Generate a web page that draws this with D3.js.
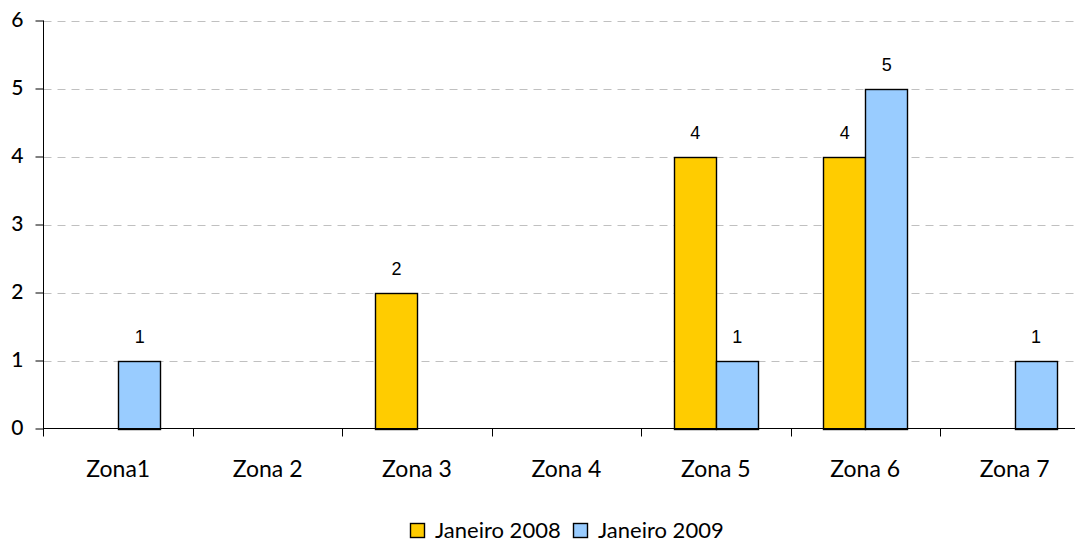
<!DOCTYPE html>
<html><head><meta charset="utf-8">
<script src="https://cdn.jsdelivr.net/npm/d3@7"></script>
<style>body{margin:0;background:#fff}svg{display:block}</style>
</head><body>
<svg id="c" width="1075" height="544"></svg>
<script>
const categories = ["Zona1","Zona 2","Zona 3","Zona 4","Zona 5","Zona 6","Zona 7"];
const seriesNames = ["Janeiro 2008","Janeiro 2009"];
const jan2008 = [0,0,2,0,4,4,0];
const jan2009 = [1,0,0,0,1,5,1];
const yTicks = [0,1,2,3,4,5,6];
const colors = ["#FFCC00","#99CCFF"];

const svg = d3.select("#c");
const mLeft = 43.5, mTop = 20.5, mBottom = 428.5, bandW = 149.4;
const x = d3.scaleBand().domain(categories).range([mLeft, mLeft + bandW*categories.length]);
const y = d3.scaleLinear().domain([0,6]).range([mBottom, mTop]);
const xs = d3.scaleBand().domain([0,1]).range([0, 84]);
const series = [jan2008, jan2009];

// gridlines
svg.append("g").selectAll("line").data(yTicks.filter(d=>d>0)).join("line")
  .attr("x1", mLeft).attr("x2", 1075).attr("y1", d=>Math.round(y(d))+0.5).attr("y2", d=>Math.round(y(d))+0.5)
  .attr("stroke", "#c0c0c0").attr("stroke-dasharray","8,6");

// bars
categories.forEach((c,i)=>{
  series.forEach((s,k)=>{
    const v = s[i];
    if (!v) return;
    const bx = x(c) + x.bandwidth()/2 - 42 + xs(k);
    svg.append("rect").attr("x", Math.round(bx)+0.5).attr("y", Math.round(y(v))+0.5)
      .attr("width", 42).attr("height", Math.round(y(0)) - Math.round(y(v)))
      .attr("fill", colors[k]).attr("stroke","#000").attr("stroke-width",1.4);
    svg.append("text").attr("x", bx+21.5).attr("y", y(v)-18).attr("text-anchor","middle")
      .style("font-family","'Liberation Sans', Arial, sans-serif").style("font-size","18px").text(v);
  });
});

// y axis
const yAxis = d3.axisLeft(y).tickValues(yTicks).tickSize(8).tickFormat(d3.format("d"));
const ya = svg.append("g").attr("transform",`translate(${mLeft},0)`).call(yAxis);
ya.select(".domain").attr("d", `M0,${mTop}V${mBottom+8}`);
ya.selectAll("text").style("font-family","Lato, sans-serif").style("font-size","21px").attr("font-weight",500)
  .attr("x",-20).attr("dy","0.3em").attr("fill","#000");
ya.selectAll("line").attr("stroke","#000");

// x axis
const xa = svg.append("g").attr("transform",`translate(0,${mBottom})`);
xa.append("line").attr("x1",mLeft).attr("x2",1075).attr("stroke","#000");
xa.selectAll("line.t").data(categories.slice(1)).join("line").attr("class","t")
  .attr("x1",d=>Math.round(x(d))+0.5).attr("x2",d=>Math.round(x(d))+0.5).attr("y1",0).attr("y2",8).attr("stroke","#000");
xa.selectAll("text").data(categories).join("text")
  .attr("x",d=>x(d)+x.bandwidth()/2).attr("y",48)
  .attr("text-anchor","middle").attr("font-family","Lato, sans-serif").attr("font-size",23).text(d=>d);

// legend
const lg = svg.append("g");
const lx = [410.5, 573.5];
seriesNames.forEach((n,k)=>{
  lg.append("rect").attr("x",lx[k]).attr("y",523.5).attr("width",14).attr("height",14)
    .attr("fill",colors[k]).attr("stroke","#000").attr("stroke-width",1.4);
  lg.append("text").attr("x",lx[k]+24.5).attr("y",538).attr("font-family","Lato, sans-serif").attr("font-size",22).text(n);
});
</script>
</body></html>
